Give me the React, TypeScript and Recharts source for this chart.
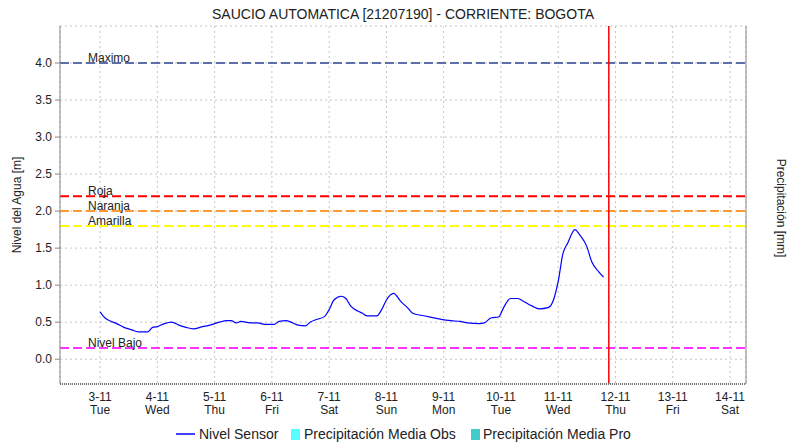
import {
  LineChart,
  Line,
  XAxis,
  YAxis,
  CartesianGrid,
  ReferenceLine,
} from 'recharts';

// hours since 3-11 00:00
const hours = [
  0, 2, 4, 7, 10, 13, 16, 20, 22, 24, 27, 30, 33, 36, 39, 43, 46, 50, 53, 55,
  57, 59, 63, 66, 69, 73, 75, 78, 80, 83, 86, 88, 91, 94, 96, 98, 101, 103,
  105, 108, 110, 112, 116, 118, 120, 123, 126, 129, 131, 135, 138, 142, 147,
  151, 154, 159, 161, 164, 167, 169, 172, 175, 177, 181, 184, 188, 190, 192,
  194, 196, 199, 201, 204, 206, 209, 211,
];
const nivelSensor = [
  0.64, 0.56, 0.52, 0.48, 0.43, 0.4, 0.37, 0.37, 0.43, 0.44, 0.48, 0.5, 0.46,
  0.43, 0.41, 0.44, 0.46, 0.5, 0.52, 0.52, 0.49, 0.51, 0.49, 0.49, 0.47, 0.47,
  0.51, 0.52, 0.5, 0.46, 0.45, 0.5, 0.54, 0.575, 0.67, 0.8, 0.85, 0.82, 0.72,
  0.65, 0.62, 0.585, 0.585, 0.67, 0.8, 0.89, 0.78, 0.69, 0.62, 0.59, 0.57,
  0.545, 0.52, 0.51, 0.49, 0.48, 0.49, 0.56, 0.57, 0.69, 0.82, 0.82, 0.79,
  0.72, 0.68, 0.7, 0.8, 1.05, 1.43, 1.57, 1.75, 1.68, 1.52, 1.32, 1.18, 1.11,
];

const dayTicks = [0, 24, 48, 72, 96, 120, 144, 168, 192, 216, 240, 264];
const dayLabels = ['3-11', '4-11', '5-11', '6-11', '7-11', '8-11', '9-11', '10-11', '11-11', '12-11', '13-11', '14-11'];
const weekdays = ['Tue', 'Wed', 'Thu', 'Fri', 'Sat', 'Sun', 'Mon', 'Tue', 'Wed', 'Thu', 'Fri', 'Sat'];

const nivelTicks = [0, 0.5, 1, 1.5, 2, 2.5, 3, 3.5, 4];
const precipTicks = [0, 10, 20, 30, 40, 50, 60, 70, 80, 90, 100];

const thresholdNames = ['Maximo', 'Roja', 'Naranja', 'Amarilla', 'Nivel Bajo'];
const thresholdValues = [4.0, 2.2, 2.0, 1.8, 0.15];

const currentHour = 213.2;

const legendNames = ['Nivel Sensor', 'Precipitación Media Obs', 'Precipitación Media Pro'];

const data = hours.map((h, i) => ({ hour: h, nivel: nivelSensor[i] }));

const FONT = '"Liberation Sans", Arial, sans-serif';
const thresholdColors: Record<string, string> = {
  Maximo: '#5e6ea6',
  Roja: '#ff0000',
  Naranja: '#ff9933',
  Amarilla: '#ffff00',
  'Nivel Bajo': '#ff33ff',
};

const DayTick = ({ x, y, payload }: any) => {
  const i = dayTicks.indexOf(payload.value);
  return (
    <text textAnchor="middle" fontSize={12} fontFamily={FONT} fill="#222">
      <tspan x={x} y={y + 15}>{dayLabels[i]}</tspan>
      <tspan x={x} y={y + 28}>{weekdays[i]}</tspan>
    </text>
  );
};

const thresholdLabel = (name: string) => (props: any) => {
  const vb = props.viewBox;
  return (
    <text x={vb.x + 28} y={vb.y - 1} fontSize={12} fontFamily={FONT} fill="#222">
      {name}
    </text>
  );
};

export default function App() {
  return (
    <div style={{ position: 'absolute', left: 0, top: 0, width: 791, height: 443, background: '#fff' }}>
      <LineChart
        width={791}
        height={443}
        data={data}
        margin={{ top: 26, right: 0, left: 0, bottom: 19 }}
      >
        <CartesianGrid yAxisId="nivel" stroke="#c4c4c4" strokeDasharray="2 3" />
        <XAxis
          dataKey="hour"
          type="number"
          domain={[-16.8, 270.7]}
          ticks={dayTicks}
          allowDataOverflow
          tick={<DayTick />}
          tickLine={false}
          tickSize={0}
          height={40}
          axisLine={{ stroke: '#777', strokeWidth: 2, strokeDasharray: '1 1' }}
        />
        <YAxis
          yAxisId="nivel"
          domain={[-0.335, 4.5]}
          ticks={nivelTicks}
          allowDataOverflow
          width={60}
          tickSize={5}
          tickMargin={3}
          tickFormatter={(v: number) => v.toFixed(1)}
          tick={{ fontSize: 12, fontFamily: FONT, fill: '#222' }}
          axisLine={{ stroke: '#888' }}
          tickLine={{ stroke: '#888' }}
        />
        <YAxis
          yAxisId="precip"
          orientation="right"
          domain={[0, 100]}
          ticks={precipTicks}
          width={45}
          tickSize={3}
          tickMargin={3}
          tick={{ fontSize: 12, fontFamily: FONT, fill: '#222', textAnchor: 'start' }}
          axisLine={{ stroke: '#888' }}
          tickLine={{ stroke: '#888' }}
        />
        {thresholdNames.map((name, i) => (
          <ReferenceLine
            key={name}
            yAxisId="nivel"
            y={thresholdValues[i]}
            stroke={thresholdColors[name]}
            strokeWidth={2}
            strokeDasharray="9 4"
            label={thresholdLabel(name)}
          />
        ))}
        <ReferenceLine yAxisId="nivel" x={currentHour} stroke="#ff0000" strokeWidth={1.5} />
        <Line
          yAxisId="nivel"
          type="monotone"
          dataKey="nivel"
          stroke="#0000ff"
          strokeWidth={1.2}
          dot={false}
          isAnimationActive={false}
        />
      </LineChart>
      <svg
        width={791}
        height={443}
        style={{ position: 'absolute', left: 0, top: 0, pointerEvents: 'none' }}
        fontFamily={FONT}
      >
        <text x={403} y={19} textAnchor="middle" fontSize={14} fill="#222">
          SAUCIO AUTOMATICA [21207190] - CORRIENTE: BOGOTA
        </text>
        <text transform="translate(21,205) rotate(-90)" textAnchor="middle" fontSize={12} fill="#222">
          Nivel del Agua [m]
        </text>
        <text transform="translate(777,208) rotate(90)" textAnchor="middle" fontSize={12} fill="#222">
          Precipitación [mm]
        </text>
        <line x1={176} x2={195} y1={434} y2={434} stroke="#0000ff" strokeWidth={1.5} />
        <text x={199} y={439} fontSize={14} fill="#222">{legendNames[0]}</text>
        <rect x={291} y={429} width={9} height={11} fill="#55ffff" />
        <text x={304} y={439} fontSize={14} fill="#222">{legendNames[1]}</text>
        <rect x={471} y={429} width={9} height={11} fill="#44cccc" />
        <text x={483} y={439} fontSize={14} fill="#222">{legendNames[2]}</text>
      </svg>
    </div>
  );
}
